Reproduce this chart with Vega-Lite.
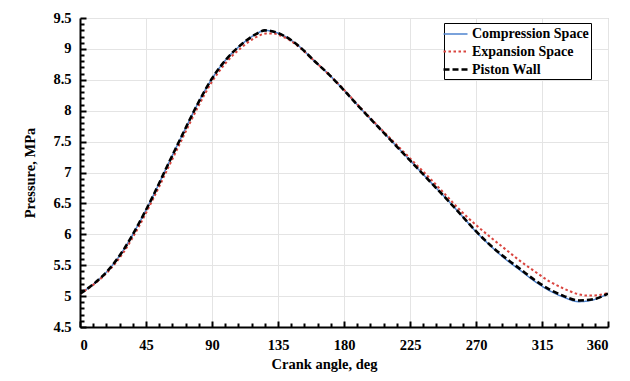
{
  "$schema": "https://vega.github.io/schema/vega-lite/v6.json",
  "width": 528,
  "height": 309,
  "autosize": {"type": "none"},
  "padding": {"left": 80, "top": 18, "right": 22, "bottom": 54},
  "background": "white",
  "config": {
    "view": {"stroke": "#BFBFBF", "strokeWidth": 1},
    "font": "Liberation Serif",
    "axis": {
      "labelFont": "Liberation Serif",
      "labelFontSize": 14.5,
      "labelFontWeight": "bold",
      "labelColor": "black",
      "titleFont": "Liberation Serif",
      "titleFontSize": 14.5,
      "titleFontWeight": "bold",
      "titleColor": "black",
      "domainColor": "black",
      "domainWidth": 2,
      "tickColor": "black",
      "tickWidth": 2,
      "gridColor": "#E4E4E4",
      "gridWidth": 1
    },
    "legend": {
      "symbolType": "M-1.5,0H1.5",
      "labelFont": "Liberation Serif",
      "labelFontSize": 14,
      "labelFontWeight": "bold",
      "labelColor": "black",
      "strokeColor": "black",
      "fillColor": "white",
      "padding": 2,
      "symbolSize": 256,
      "symbolStrokeWidth": 2,
      "rowPadding": 1,
      "labelOffset": 7
    }
  },
  "data": {
    "values": [
      {"a": 0, "s": "Compression Space", "p": 5.04},
      {"a": 10, "s": "Compression Space", "p": 5.21},
      {"a": 20, "s": "Compression Space", "p": 5.44},
      {"a": 30, "s": "Compression Space", "p": 5.76},
      {"a": 40, "s": "Compression Space", "p": 6.17},
      {"a": 50, "s": "Compression Space", "p": 6.63},
      {"a": 60, "s": "Compression Space", "p": 7.13},
      {"a": 70, "s": "Compression Space", "p": 7.62},
      {"a": 80, "s": "Compression Space", "p": 8.1},
      {"a": 90, "s": "Compression Space", "p": 8.52},
      {"a": 100, "s": "Compression Space", "p": 8.84},
      {"a": 110, "s": "Compression Space", "p": 9.07},
      {"a": 120, "s": "Compression Space", "p": 9.24},
      {"a": 126, "s": "Compression Space", "p": 9.3},
      {"a": 130, "s": "Compression Space", "p": 9.29},
      {"a": 140, "s": "Compression Space", "p": 9.2},
      {"a": 150, "s": "Compression Space", "p": 9.03},
      {"a": 160, "s": "Compression Space", "p": 8.8},
      {"a": 170, "s": "Compression Space", "p": 8.58},
      {"a": 180, "s": "Compression Space", "p": 8.33},
      {"a": 190, "s": "Compression Space", "p": 8.07},
      {"a": 200, "s": "Compression Space", "p": 7.82},
      {"a": 210, "s": "Compression Space", "p": 7.57},
      {"a": 220, "s": "Compression Space", "p": 7.32},
      {"a": 230, "s": "Compression Space", "p": 7.07},
      {"a": 240, "s": "Compression Space", "p": 6.82},
      {"a": 250, "s": "Compression Space", "p": 6.57},
      {"a": 260, "s": "Compression Space", "p": 6.31},
      {"a": 270, "s": "Compression Space", "p": 6.04},
      {"a": 280, "s": "Compression Space", "p": 5.81},
      {"a": 290, "s": "Compression Space", "p": 5.6},
      {"a": 300, "s": "Compression Space", "p": 5.42},
      {"a": 310, "s": "Compression Space", "p": 5.24},
      {"a": 320, "s": "Compression Space", "p": 5.09},
      {"a": 330, "s": "Compression Space", "p": 4.98},
      {"a": 340, "s": "Compression Space", "p": 4.91},
      {"a": 350, "s": "Compression Space", "p": 4.94},
      {"a": 360, "s": "Compression Space", "p": 5.04},

      {"a": 0, "s": "Expansion Space", "p": 5.04},
      {"a": 10, "s": "Expansion Space", "p": 5.2},
      {"a": 20, "s": "Expansion Space", "p": 5.42},
      {"a": 30, "s": "Expansion Space", "p": 5.72},
      {"a": 40, "s": "Expansion Space", "p": 6.12},
      {"a": 50, "s": "Expansion Space", "p": 6.58},
      {"a": 60, "s": "Expansion Space", "p": 7.07},
      {"a": 70, "s": "Expansion Space", "p": 7.56},
      {"a": 80, "s": "Expansion Space", "p": 8.04},
      {"a": 90, "s": "Expansion Space", "p": 8.47},
      {"a": 100, "s": "Expansion Space", "p": 8.79},
      {"a": 110, "s": "Expansion Space", "p": 9.02},
      {"a": 120, "s": "Expansion Space", "p": 9.19},
      {"a": 127, "s": "Expansion Space", "p": 9.25},
      {"a": 131, "s": "Expansion Space", "p": 9.25},
      {"a": 140, "s": "Expansion Space", "p": 9.18},
      {"a": 150, "s": "Expansion Space", "p": 9.02},
      {"a": 160, "s": "Expansion Space", "p": 8.8},
      {"a": 170, "s": "Expansion Space", "p": 8.58},
      {"a": 180, "s": "Expansion Space", "p": 8.34},
      {"a": 190, "s": "Expansion Space", "p": 8.08},
      {"a": 200, "s": "Expansion Space", "p": 7.83},
      {"a": 210, "s": "Expansion Space", "p": 7.59},
      {"a": 220, "s": "Expansion Space", "p": 7.35},
      {"a": 230, "s": "Expansion Space", "p": 7.11},
      {"a": 240, "s": "Expansion Space", "p": 6.87},
      {"a": 250, "s": "Expansion Space", "p": 6.62},
      {"a": 260, "s": "Expansion Space", "p": 6.37},
      {"a": 270, "s": "Expansion Space", "p": 6.15},
      {"a": 280, "s": "Expansion Space", "p": 5.95},
      {"a": 290, "s": "Expansion Space", "p": 5.76},
      {"a": 300, "s": "Expansion Space", "p": 5.57},
      {"a": 310, "s": "Expansion Space", "p": 5.4},
      {"a": 320, "s": "Expansion Space", "p": 5.24},
      {"a": 330, "s": "Expansion Space", "p": 5.12},
      {"a": 340, "s": "Expansion Space", "p": 5.03},
      {"a": 345, "s": "Expansion Space", "p": 5.01},
      {"a": 350, "s": "Expansion Space", "p": 5.01},
      {"a": 360, "s": "Expansion Space", "p": 5.05},

      {"a": 0, "s": "Piston Wall", "p": 5.04},
      {"a": 10, "s": "Piston Wall", "p": 5.21},
      {"a": 20, "s": "Piston Wall", "p": 5.44},
      {"a": 30, "s": "Piston Wall", "p": 5.76},
      {"a": 40, "s": "Piston Wall", "p": 6.17},
      {"a": 50, "s": "Piston Wall", "p": 6.63},
      {"a": 60, "s": "Piston Wall", "p": 7.13},
      {"a": 70, "s": "Piston Wall", "p": 7.62},
      {"a": 80, "s": "Piston Wall", "p": 8.1},
      {"a": 90, "s": "Piston Wall", "p": 8.52},
      {"a": 100, "s": "Piston Wall", "p": 8.84},
      {"a": 110, "s": "Piston Wall", "p": 9.07},
      {"a": 120, "s": "Piston Wall", "p": 9.24},
      {"a": 126, "s": "Piston Wall", "p": 9.3},
      {"a": 130, "s": "Piston Wall", "p": 9.29},
      {"a": 140, "s": "Piston Wall", "p": 9.2},
      {"a": 150, "s": "Piston Wall", "p": 9.03},
      {"a": 160, "s": "Piston Wall", "p": 8.8},
      {"a": 170, "s": "Piston Wall", "p": 8.58},
      {"a": 180, "s": "Piston Wall", "p": 8.33},
      {"a": 190, "s": "Piston Wall", "p": 8.07},
      {"a": 200, "s": "Piston Wall", "p": 7.82},
      {"a": 210, "s": "Piston Wall", "p": 7.57},
      {"a": 220, "s": "Piston Wall", "p": 7.32},
      {"a": 230, "s": "Piston Wall", "p": 7.07},
      {"a": 240, "s": "Piston Wall", "p": 6.82},
      {"a": 250, "s": "Piston Wall", "p": 6.57},
      {"a": 260, "s": "Piston Wall", "p": 6.31},
      {"a": 270, "s": "Piston Wall", "p": 6.05},
      {"a": 280, "s": "Piston Wall", "p": 5.82},
      {"a": 290, "s": "Piston Wall", "p": 5.62},
      {"a": 300, "s": "Piston Wall", "p": 5.44},
      {"a": 310, "s": "Piston Wall", "p": 5.26},
      {"a": 320, "s": "Piston Wall", "p": 5.11},
      {"a": 330, "s": "Piston Wall", "p": 5.0},
      {"a": 340, "s": "Piston Wall", "p": 4.93},
      {"a": 350, "s": "Piston Wall", "p": 4.95},
      {"a": 360, "s": "Piston Wall", "p": 5.04}
    ]
  },
  "mark": {"type": "line", "interpolate": "monotone", "clip": true},
  "encoding": {
    "x": {
      "field": "a",
      "type": "quantitative",
      "scale": {"domain": [0, 360], "nice": false, "zero": false},
      "axis": {
        "title": "Crank angle, deg",
        "titleX": 244,
        "values": [0, 9, 18, 27, 36, 45, 54, 63, 72, 81, 90, 99, 108, 117, 126, 135, 144, 153, 162, 171, 180, 189, 198, 207, 216, 225, 234, 243, 252, 261, 270, 279, 288, 297, 306, 315, 324, 333, 342, 351, 360],
        "labelExpr": "datum.value % 45 === 0 ? datum.label : ''",
        "tickSize": {"condition": {"test": "datum.value % 45 === 0", "value": -6}, "value": -4},
        "gridOpacity": {"condition": {"test": "datum.value % 45 === 0", "value": 1}, "value": 0},
        "labelPadding": 17.5,
        "titlePadding": 5
      }
    },
    "y": {
      "field": "p",
      "type": "quantitative",
      "scale": {"domain": [4.5, 9.5], "nice": false, "zero": false},
      "axis": {
        "title": "Pressure, MPa",
        "values": [4.5, 4.6, 4.7, 4.8, 4.9, 5, 5.1, 5.2, 5.3, 5.4, 5.5, 5.6, 5.7, 5.8, 5.9, 6, 6.1, 6.2, 6.3, 6.4, 6.5, 6.6, 6.7, 6.8, 6.9, 7, 7.1, 7.2, 7.3, 7.4, 7.5, 7.6, 7.7, 7.8, 7.9, 8, 8.1, 8.2, 8.3, 8.4, 8.5, 8.6, 8.7, 8.8, 8.9, 9, 9.1, 9.2, 9.3, 9.4, 9.5],
        "labelExpr": "abs(datum.value * 2 - round(datum.value * 2)) < 0.001 ? format(datum.value, '~g') : ''",
        "tickSize": {"condition": {"test": "abs(datum.value * 2 - round(datum.value * 2)) < 0.001", "value": -6}, "value": -4},
        "gridOpacity": {"condition": {"test": "abs(datum.value * 2 - round(datum.value * 2)) < 0.001", "value": 1}, "value": 0},
        "labelPadding": 15,
        "titlePadding": 15
      }
    },
    "color": {
      "field": "s",
      "type": "nominal",
      "scale": {"domain": ["Compression Space", "Expansion Space", "Piston Wall"], "range": ["#4F84CF", "#D9453F", "#000000"]},
      "legend": {"title": null, "orient": "none", "legendX": 364, "legendY": 5}
    },
    "strokeDash": {
      "field": "s",
      "type": "nominal",
      "scale": {"domain": ["Compression Space", "Expansion Space", "Piston Wall"], "range": [[1, 0], [2.5, 2.5], [6, 3]]},
      "legend": {"title": null, "orient": "none", "legendX": 364, "legendY": 5}
    },
    "strokeWidth": {
      "field": "s",
      "type": "nominal",
      "scale": {"domain": ["Compression Space", "Expansion Space", "Piston Wall"], "range": [1.5, 2.6, 2.2]},
      "legend": null
    }
  }
}
